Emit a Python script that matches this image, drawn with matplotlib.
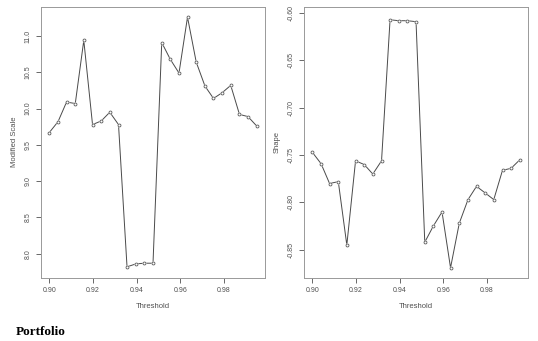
import matplotlib
matplotlib.use("Agg")
import matplotlib.pyplot as plt

plt.rcParams['font.family'] = ['Liberation Sans', 'DejaVu Sans']

# threshold values (x axis, both panels)
threshold = [0.9000, 0.9040, 0.9079, 0.9119, 0.9158, 0.9198, 0.9238, 0.9277,
             0.9317, 0.9356, 0.9396, 0.9435, 0.9475, 0.9515, 0.9554, 0.9594,
             0.9633, 0.9673, 0.9713, 0.9752, 0.9792, 0.9831, 0.9871, 0.9910,
             0.9950]

# left panel: modified scale
mod_scale = [9.67, 9.82, 10.09, 10.07, 10.94, 9.78, 9.83, 9.95, 9.78,
             7.82, 7.86, 7.87, 7.87, 10.91, 10.68, 10.49, 11.26, 10.64,
             10.31, 10.14, 10.22, 10.32, 9.92, 9.89, 9.76]

# right panel: shape
shape = [-0.747, -0.759, -0.780, -0.778, -0.845, -0.756, -0.760, -0.770,
         -0.756, -0.607, -0.608, -0.608, -0.609, -0.842, -0.825, -0.810,
         -0.869, -0.822, -0.797, -0.783, -0.790, -0.797, -0.766, -0.764,
         -0.755]

xticks = [0.90, 0.92, 0.94, 0.96, 0.98]
left_yticks = [8.0, 8.5, 9.0, 9.5, 10.0, 10.5, 11.0]
right_yticks = [-0.85, -0.80, -0.75, -0.70, -0.65, -0.60]

fig = plt.figure(figsize=(5.38, 3.41), dpi=100)
ax1 = fig.add_axes([0.0762, 0.1862, 0.4164, 0.7933])
ax2 = fig.add_axes([0.5651, 0.1862, 0.4164, 0.7933])

panels = [
    (ax1, mod_scale, "Modified Scale", left_yticks, (7.673, 11.40), "%.1f"),
    (ax2, shape, "Shape", right_yticks, (-0.8793, -0.5935), "%.2f"),
]

for ax, vals, ylab, yt, ylim, fmt in panels:
    # R type="b": line with small gaps around the open circles
    ax.plot(threshold, vals, color='#4a4a4a', lw=0.7, zorder=2)
    ax.plot(threshold, vals, 'o', ms=3.0, mfc='white', mec='white',
            mew=0.0, zorder=3)
    ax.plot(threshold, vals, 'o', ms=2.1, mfc='white', mec='#5a5a5a',
            mew=0.6, zorder=4)
    ax.set_xlim(0.8962, 0.9988)
    ax.set_ylim(*ylim)
    ax.set_xticks(xticks)
    ax.set_xticklabels(["%.2f" % t for t in xticks])
    ax.set_yticks(yt)
    ax.set_yticklabels([fmt % t for t in yt], rotation=90, va='center')
    ax.tick_params(labelsize=5, colors='#505050', length=3.5, width=0.6,
                   pad=3)
    for s in ax.spines.values():
        s.set_color('#999999')
        s.set_linewidth(0.7)
    ax.set_xlabel("Threshold", fontsize=5.5, color='#505050', labelpad=7)
    ax.set_ylabel(ylab, fontsize=5.5, color='#505050', labelpad=5)

fig.text(0.030, 0.018, "Portfolio", family=['Liberation Serif'],
         fontweight='bold', fontsize=9.5, color='black')

fig.savefig("out.png", dpi=100)
